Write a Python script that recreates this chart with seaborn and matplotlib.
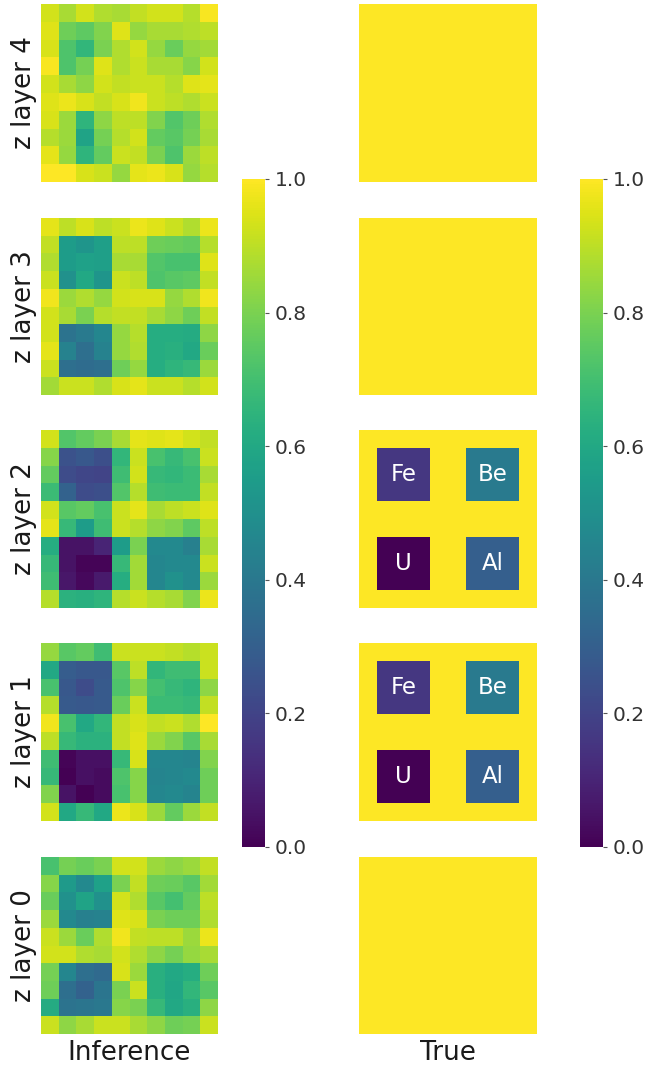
import numpy as np
import matplotlib
matplotlib.use("Agg")
import matplotlib.pyplot as plt
import seaborn as sns

layer4 = [
 [.93,.87,.93,.88,.87,.91,.93,.93,.89,.99],
 [.95,.78,.75,.81,.95,.84,.87,.87,.88,.90],
 [.94,.72,.66,.80,.88,.93,.84,.77,.84,.86],
 [.99,.72,.79,.95,.88,.92,.87,.87,.82,.93],
 [.93,.87,.83,.93,.91,.92,.92,.89,.95,.96],
 [.95,.97,.94,.91,.94,.98,.92,.90,.88,.92],
 [.94,.85,.65,.83,.90,.90,.81,.73,.78,.88],
 [.89,.85,.58,.79,.89,.93,.76,.74,.79,.87],
 [.96,.84,.65,.76,.92,.91,.80,.72,.85,.90],
 [1.0,1.0,.94,.92,.84,.96,.97,.94,.84,.89]]
layer3 = [
 [.96,.90,.94,.90,.92,.97,.95,.92,.88,.97],
 [.91,.55,.52,.56,.90,.90,.78,.77,.76,.89],
 [.88,.55,.57,.56,.87,.87,.73,.71,.71,.95],
 [.92,.50,.60,.52,.92,.90,.72,.74,.75,.91],
 [.98,.85,.88,.84,.93,.94,.94,.84,.88,.98],
 [.93,.87,.80,.89,.91,.91,.87,.83,.78,.91],
 [.93,.38,.41,.46,.84,.89,.62,.62,.61,.83],
 [.96,.44,.36,.44,.84,.88,.62,.63,.60,.77],
 [.92,.36,.35,.36,.78,.84,.62,.65,.67,.85],
 [.86,.92,.92,.88,.94,.96,.92,.92,.89,.93]]
layer2 = [
 [.93,.73,.76,.80,.87,.96,.95,.96,.93,.91],
 [.82,.25,.27,.24,.66,.92,.71,.67,.71,.92],
 [.76,.23,.21,.20,.69,.93,.67,.66,.68,.87],
 [.68,.31,.23,.24,.73,.89,.69,.68,.68,.91],
 [.93,.74,.76,.71,.92,.96,.87,.90,.92,.95],
 [.96,.67,.55,.69,.92,.89,.83,.81,.75,.90],
 [.62,.05,.05,.10,.55,.80,.47,.47,.43,.87],
 [.67,.05,.01,.01,.67,.86,.46,.47,.47,.92],
 [.69,.06,.02,.07,.62,.86,.46,.50,.47,.85],
 [.89,.64,.63,.65,.89,.92,.89,.87,.81,.97]]
layer1 = [
 [.84,.74,.76,.69,.92,.92,.92,.91,.89,.92],
 [.60,.29,.27,.27,.74,.90,.66,.69,.69,.92],
 [.71,.27,.23,.28,.72,.82,.70,.67,.65,.83],
 [.89,.28,.27,.28,.77,.92,.68,.68,.67,.91],
 [.98,.71,.60,.66,.91,.94,.91,.92,.88,1.0],
 [.90,.67,.64,.64,.91,.95,.85,.81,.74,.87],
 [.69,.01,.04,.04,.67,.94,.46,.46,.45,.81],
 [.67,.00,.04,.03,.72,.82,.45,.46,.47,.78],
 [.81,.05,.00,.03,.71,.82,.46,.47,.45,.78],
 [.93,.60,.67,.60,.97,.94,.85,.76,.85,.91]]
layer0 = [
 [.71,.79,.77,.80,.93,.93,.85,.83,.85,.91],
 [.82,.54,.47,.57,.80,.91,.78,.77,.74,.86],
 [.77,.50,.58,.50,.93,.88,.74,.70,.76,.90],
 [.85,.47,.43,.44,.95,.94,.80,.78,.78,.88],
 [.92,.85,.77,.88,.98,.91,.90,.90,.85,.97],
 [.93,.93,.88,.87,.93,.88,.83,.79,.84,.87],
 [.79,.46,.36,.34,.94,.85,.63,.60,.62,.78],
 [.78,.36,.31,.39,.80,.92,.63,.59,.66,.74],
 [.61,.38,.39,.40,.82,.80,.67,.60,.63,.83],
 [.92,.83,.87,.92,.92,.87,.83,.78,.79,.92]]

blank = [[1.0]*10 for _ in range(10)]
slab = [
 [1,1,1,1,1,1,1,1,1,1],
 [1,.16,.16,.16,1,1,.41,.41,.41,1],
 [1,.16,.16,.16,1,1,.41,.41,.41,1],
 [1,.16,.16,.16,1,1,.41,.41,.41,1],
 [1,1,1,1,1,1,1,1,1,1],
 [1,1,1,1,1,1,1,1,1,1],
 [1,0,0,0,1,1,.30,.30,.30,1],
 [1,0,0,0,1,1,.30,.30,.30,1],
 [1,0,0,0,1,1,.30,.30,.30,1],
 [1,1,1,1,1,1,1,1,1,1]]
materials = [("Fe", 2, 2), ("Be", 2, 7), ("U", 7, 2), ("Al", 7, 7)]

layer_names = ["z layer 4", "z layer 3", "z layer 2", "z layer 1", "z layer 0"]
inference = [layer4, layer3, layer2, layer1, layer0]
true_maps = [blank, blank, slab, slab, blank]

W, H = 646, 1068
fig = plt.figure(figsize=(W / 100, H / 100), dpi=100)

def box(x0, y0, x1, y1):
    return [x0 / W, 1 - y1 / H, (x1 - x0) / W, (y1 - y0) / H]

tops = [(4, 182), (218, 395), (430, 608), (643, 821), (857, 1034)]
cax_l = fig.add_axes(box(242, 179, 265, 847))
cax_r = fig.add_axes(box(580, 179, 603, 847))

for i, (y0, y1) in enumerate(tops):
    ax = fig.add_axes(box(41, y0, 218, y1))
    sns.heatmap(np.array(inference[i]), ax=ax, vmin=0, vmax=1, cmap="viridis",
                cbar=i == 0, cbar_ax=cax_l if i == 0 else None,
                xticklabels=False, yticklabels=False)
    ax.set_ylabel(layer_names[i], fontsize=18.8, labelpad=3, color="#1a1a1a")
    if i == 4:
        ax.set_xlabel("Inference", fontsize=18.8, labelpad=4, color="#1a1a1a")

    ax2 = fig.add_axes(box(359, y0, 537, y1))
    t = np.array(true_maps[i], dtype=float)
    annot = np.full(t.shape, "", dtype=object)
    if true_maps[i] is slab:
        for name, r, c in materials:
            annot[r, c] = name
    sns.heatmap(t, ax=ax2, vmin=0, vmax=1, cmap="viridis",
                cbar=i == 0, cbar_ax=cax_r if i == 0 else None,
                annot=annot, fmt="", annot_kws={"fontsize": 16.5, "color": "white"},
                xticklabels=False, yticklabels=False)
    if i == 4:
        ax2.set_xlabel("True", fontsize=18.8, labelpad=4, color="#1a1a1a")

for c in (cax_l, cax_r):
    c.set_yticks([0, .2, .4, .6, .8, 1.0])
    c.tick_params(labelsize=14.5, length=3, width=0.8, pad=4, color="#555555", labelcolor="#333333")
    for s in c.spines.values():
        s.set_visible(False)

fig.savefig("out.png", dpi=100)
